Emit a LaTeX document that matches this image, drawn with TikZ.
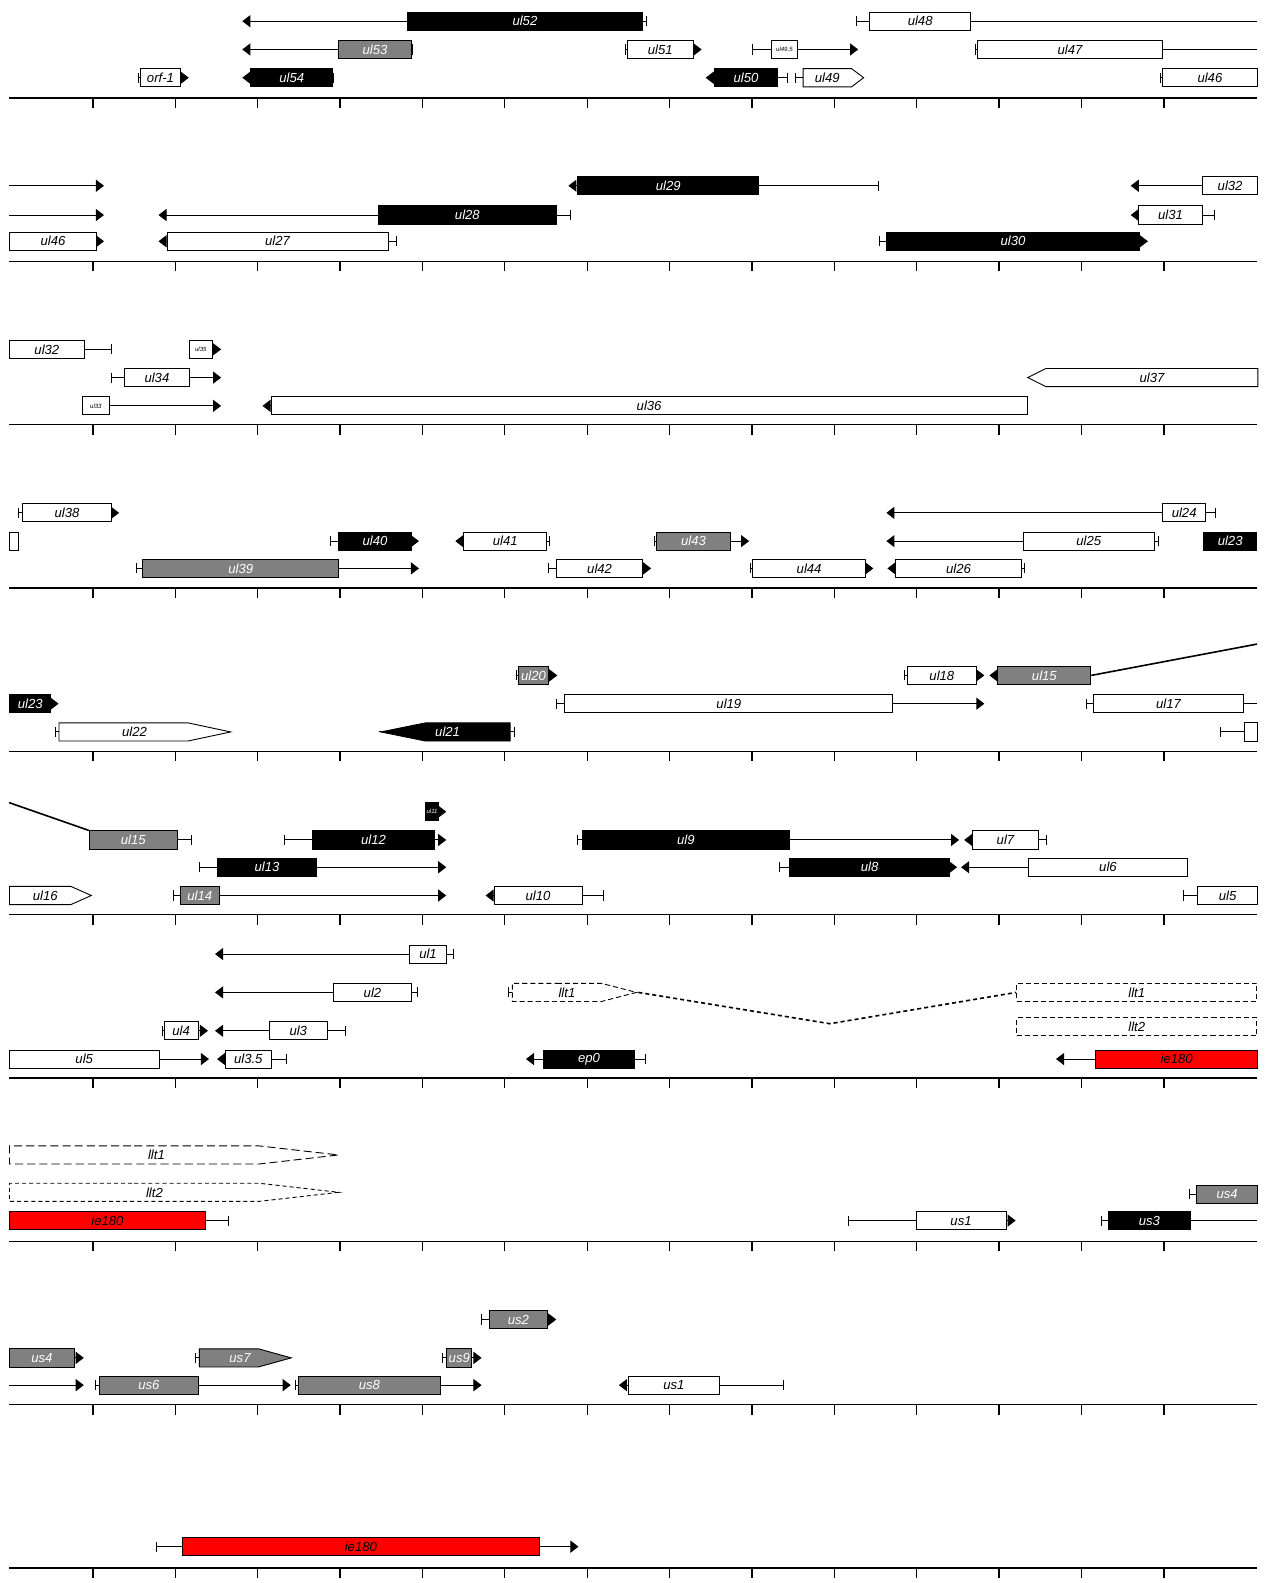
\documentclass[tikz,border=0pt]{standalone}
\usepackage{fontspec}
\newfontfamily\genefont{Liberation Sans}
\usetikzlibrary{positioning,arrows.meta,shapes.symbols}

\definecolor{genegray}{RGB}{128,128,128}
\newcommand\gfont{\genefont\itshape\fontsize{13}{13}\selectfont}
\newcommand\sfont{\genefont\itshape\fontsize{6}{6}\selectfont}

\tikzset{
    x=1pt, y=-1pt,
    orf/.style={draw, line width=0.9pt, minimum height=18pt, inner sep=0pt, font=\gfont},
    wt/.style={orf, fill=white},
    gy/.style={orf, fill=genegray, text=white},
    bk/.style={orf, fill=black, text=white},
    rd/.style={orf, fill=red},
    smalltxt/.style={font=\sfont},
    sig/.style={shape=signal, signal from=nowhere, signal to=east, signal pointer angle=#1},
    sigl/.style={shape=signal, signal from=nowhere, signal to=west, signal pointer angle=#1},
    lltbox/.style={orf, fill=white, dash pattern=on 5pt off 3pt},
    tr/.style={line width=1pt, {Bar[width=10pt]}-{Triangle[length=8pt,width=12pt]}},
    trb/.style={line width=1pt, {Bar[width=10pt]}-},
    tra/.style={line width=1pt, -{Triangle[length=8pt,width=12pt]}},
    trn/.style={line width=1pt},
    intron/.style={line width=1.6pt},
    axis/.style={line width=1.3pt}
}

% line from start (bar) to end (tip), box on top
\newcommand\gene[9][tr]{%
    \coordinate (#2-s) at (#4,#3);
    \coordinate (#2-e) at (#5,#3);
    \draw[#1] (#2-s) -- (#2-e);
    \node[#8, minimum width={#7-#6}, anchor=west] (#2) at (#6,#3) {#9};
}
\newcommand\txline[5][tra]{%
    \coordinate (#2-s) at (#4,#3);
    \coordinate (#2-e) at (#5,#3);
    \draw[#1] (#2-s) -- (#2-e);
}

\begin{document}
\begin{tikzpicture}
\fill[white] (0,0) rectangle (1253,1568);
\useasboundingbox (0,0) rectangle (1253,1568);

% axes
\foreach \k in {0,...,9} {
    \draw[axis] (9,{97+161.8*\k}) -- (1245,{97+161.8*\k});
    \foreach \i in {0,...,13}
        \draw[axis] ({92+81.6*\i},{97+161.8*\k}) -- ++(0,10);
}

% track 1
\gene{ul52}{21}{641}{240}{403}{636}{bk}{ul52}
\gene[trb]{ul48}{21}{848}{1245}{861}{961}{wt}{ul48}
\gene{ul53}{49}{409}{240}{335}{407}{gy}{ul53}
\gene{ul51}{49}{619}{695}{621}{686}{wt}{ul51}
\gene{ul49a}{49}{745}{850}{764}{789}{wt, smalltxt}{ul49.5}
\gene[trb]{ul47}{49}{966}{1245}{968}{1151}{wt}{ul47}
\gene{orf1}{77}{137}{187}{139}{178}{wt}{orf-1}
\gene{ul54}{77}{331}{240}{248}{329}{bk}{ul54}
\gene{ul50}{77}{781}{699}{707}{770}{bk}{ul50}
\gene[trb]{ul49}{77}{787}{855}{795}{855}{wt, sig=74}{ul49}
\gene[trb]{ul46}{77}{1149}{1245}{1151}{1245}{wt}{ul46}

% track 2
\txline{ul48c}{184}{9}{103}
\gene{ul29}{184}{871}{563}{572}{751}{bk}{ul29}
\gene[tra]{ul32}{184}{1245}{1120}{1191}{1245}{wt}{ul32}
\txline{ul47c}{213}{9}{103}
\gene{ul28}{213}{566}{157}{374}{551}{bk}{ul28}
\gene{ul31}{213}{1203}{1120}{1127}{1191}{wt}{ul31}
\gene[tra]{ul46c}{239}{9}{103}{9}{95}{wt}{ul46}
\gene{ul27}{239}{393}{157}{165}{384}{wt}{ul27}
\gene{ul30}{239}{871}{1137}{878}{1128}{bk}{ul30}

% track 3
\gene[trb]{ul32c}{346}{111}{9}{9}{83}{wt}{ul32}
\gene[tra]{ul35}{346}{187}{219}{187}{210}{wt, smalltxt}{ul35}
\gene{ul34}{374}{110}{219}{123}{187}{wt}{ul34}
\gene[trn]{ul37}{374}{1245}{1017}{1017}{1245}{wt, sigl=53}{ul37}
\gene[tra]{ul33}{402}{81}{219}{81}{108}{wt, smalltxt}{ul33}
\gene[tra]{ul36}{402}{1017}{260}{268}{1017}{wt}{ul36}

% track 4
\gene{ul38}{508}{18}{118}{22}{110}{wt}{ul38}
\gene{ul24}{508}{1204}{878}{1151}{1194}{wt}{ul24}
\node[wt, minimum width=9] (ul37c) at (13.5,536) {};
\gene{ul40}{536}{327}{415}{335}{407}{bk}{ul40}
\gene{ul41}{536}{545}{451}{459}{541}{wt}{ul41}
\gene{ul43}{536}{648}{742}{650}{723}{gy}{ul43}
\gene{ul25}{536}{1148}{878}{1013}{1143}{wt}{ul25}
\node[bk, minimum width=53] (ul23) at (1218.5,536) {ul23};
\gene{ul39}{563}{135}{415}{141}{335}{gy}{ul39}
\gene{ul42}{563}{543}{645}{551}{636}{wt}{ul42}
\gene{ul44}{563}{743}{865}{745}{857}{wt}{ul44}
\gene{ul26}{563}{1015}{879}{887}{1011}{wt}{ul26}

% track 5
\gene{ul20}{669}{511}{552}{513}{543}{gy}{ul20}
\gene{ul18}{669}{895}{975}{898}{967}{wt}{ul18}
\gene[tra]{ul15b}{669}{1080}{980}{988}{1080}{gy}{ul15}
\coordinate (ul15-o) at (1245,638);
\draw[intron] (ul15b.east) -- (ul15-o);
\gene[tra]{ul23c}{697}{9}{58}{9}{50}{bk}{ul23}
\gene{ul19}{697}{551}{975}{559}{884}{wt}{ul19}
\gene[trb]{ul17}{697}{1076}{1245}{1083}{1231}{wt}{ul17}
\gene[trb]{ul22}{725}{54}{228}{58}{228}{wt, sig=24}{\hspace*{22pt}ul22}
\gene[trb]{ul21}{725}{510}{375}{375}{503}{bk, sigl=23}{ul21\hspace*{40pt}}
\gene[trb]{ul16}{725}{1208}{1245}{1232}{1245}{wt}{}

% track 6
\coordinate (ul15-i) at (9,795);
\gene[trb]{ul15a}{832}{190}{88}{88}{175}{gy}{ul15}
\draw[intron] (ul15-i) -- (ul15a.north west);
\gene[tra]{ul11}{804}{421}{442}{421}{434}{bk, smalltxt}{ul11}
\gene{ul12}{832}{281}{442}{309}{430}{bk}{ul12}
\gene{ul9}{832}{572}{950}{576}{782}{bk}{ul9}
\gene{ul7}{832}{1037}{955}{963}{1028}{wt}{ul7}
\gene{ul13}{859}{197}{442}{215}{313}{bk}{ul13}
\gene{ul8}{859}{772}{948}{782}{940}{bk}{ul8}
\gene[tra]{ul6}{859}{1176}{952}{1018}{1176}{wt}{ul6}
\gene[trn]{ul16c}{887}{9}{90}{9}{90}{wt, sig=48}{\hspace*{10pt}ul16}
\gene{ul14}{887}{171}{442}{178}{217}{gy}{ul14}
\gene{ul10}{887}{598}{481}{489}{576}{wt}{ul10}
\gene[trb]{ul5}{887}{1172}{1245}{1186}{1245}{wt}{ul5}

% track 7
\gene{ul1}{945}{450}{213}{405}{442}{wt}{ul1}
\gene{ul2}{983}{414}{213}{330}{407}{wt}{ul2}
\gene[trb]{llt1a}{983}{503}{630}{507}{630}{lltbox, sig=29}{\hspace*{20pt}llt1}
\node[lltbox, minimum width=238] (llt1b) at (1126,983) {llt1};
\coordinate (llt1-v) at (822,1014);
\draw[intron, dash pattern=on 4pt off 3pt] (llt1a.east) -- (llt1-v) -- (llt1b.west);
\node[lltbox, minimum width=238] (llt2a) at (1126,1017) {llt2};
\gene{ul4}{1021}{160}{206}{162}{196}{wt}{ul4}
\gene{ul3}{1021}{343}{213}{266}{324}{wt}{ul3}
\gene[tra]{ul5c}{1049}{9}{207}{9}{157}{wt}{ul5}
\gene{ul3-5}{1049}{284}{215}{223}{268}{wt}{ul3.5}
\gene{ep0}{1049}{640}{521}{538}{628}{bk}{ep0}
\gene[tra]{ie180a}{1049}{1245}{1046}{1085}{1245}{rd}{ie180}

% track 8
\node[lltbox, sig=13, minimum width=326, dash pattern=on 8pt off 4pt, anchor=west] (llt1c) at (9,1144) {\hspace*{44pt}llt1};
\node[lltbox, sig=13, minimum width=326, dash pattern=on 4pt off 3pt, anchor=west] (llt2c) at (9,1181) {\hspace*{40pt}llt2};
\gene[trb]{ie180b}{1209}{227}{9}{9}{203}{rd}{ie180}
\gene{us1a}{1209}{840}{1006}{907}{996}{wt}{us1}
\gene[trb]{us3}{1209}{1091}{1245}{1097}{1179}{bk}{us3}
\gene[trb]{us4a}{1183}{1178}{1245}{1185}{1245}{gy}{us4}

% track 9
\gene{us2}{1307}{476}{551}{484}{542}{gy}{us2}
\gene[tra]{us4b}{1345}{9}{83}{9}{73}{gy}{us4}
\gene[trb]{us7}{1345}{193}{288}{197}{288}{gy, sig=31}{\hspace*{22pt}us7}
\gene{us9}{1345}{438}{477}{442}{467}{gy}{us9}
\txline{us3c}{1372}{9}{83}
\gene{us6}{1372}{94}{288}{98}{196}{gy}{us6}
\gene{us8}{1372}{292}{477}{295}{436}{gy}{us8}
\gene{us1b}{1372}{777}{613}{622}{712}{wt}{us1}

% track 10
\gene{ie180c}{1532}{155}{573}{180}{534}{rd}{ie180}
\end{tikzpicture}
\end{document}
